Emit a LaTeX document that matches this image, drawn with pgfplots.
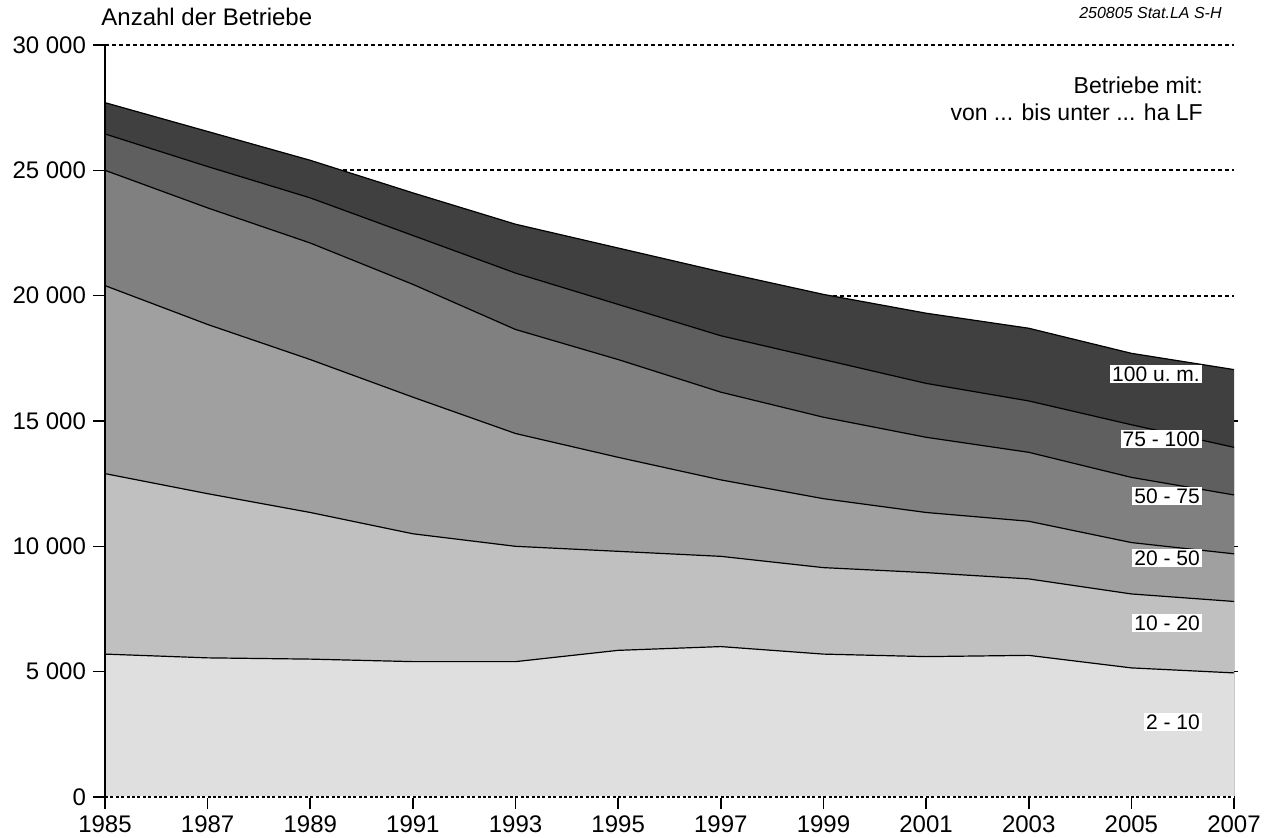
\documentclass[border=0pt]{standalone}
\usepackage{fontspec}
\setmainfont{Liberation Sans}
\usepackage{pgfplots}
\usepackage{pgfplotstable}
\pgfplotsset{compat=1.18}

\definecolor{cA}{HTML}{DFDFDF}
\definecolor{cB}{HTML}{C0C0C0}
\definecolor{cC}{HTML}{A0A0A0}
\definecolor{cD}{HTML}{808080}
\definecolor{cE}{HTML}{5F5F5F}
\definecolor{cF}{HTML}{404040}

% a: 2-10, b: 10-20, c: 20-50, d: 50-75, e: 75-100, f: 100 u. m.
\pgfplotstableread{
year a    b    c    d    e    f
1985 5700 7200 7500 4600 1450 1250
1987 5550 6550 6750 4650 1650 1400
1989 5500 5850 6100 4650 1800 1500
1991 5400 5100 5450 4500 1950 1700
1993 5400 4600 4500 4150 2250 1950
1995 5850 3950 3750 3900 2200 2250
1997 6000 3600 3050 3500 2250 2550
1999 5700 3450 2750 3250 2300 2600
2001 5600 3350 2400 3000 2150 2800
2003 5650 3050 2300 2750 2050 2900
2005 5150 2950 2050 2600 2100 2850
2007 4950 2850 1900 2350 1900 3100
}\data
\pgfplotstablecreatecol[expr={\thisrow{a}+\thisrow{b}}]{s2}{\data}
\pgfplotstablecreatecol[expr={\thisrow{s2}+\thisrow{c}}]{s3}{\data}
\pgfplotstablecreatecol[expr={\thisrow{s3}+\thisrow{d}}]{s4}{\data}
\pgfplotstablecreatecol[expr={\thisrow{s4}+\thisrow{e}}]{s5}{\data}
\pgfplotstablecreatecol[expr={\thisrow{s5}+\thisrow{f}}]{s6}{\data}

\begin{document}
\begin{tikzpicture}
\begin{axis}[
  scale only axis, width=564.5pt, height=376pt,
  xmin=1985, xmax=2007, ymin=0, ymax=30000,
  axis lines*=left,
  xtick={1985,1987,...,2007},
  ytick={0,5000,...,30000},
  scaled y ticks=false,
  tick align=outside, major tick length=6pt,
  tick style={black, line width=0.8pt},
  xticklabel style={/pgf/number format/1000 sep={}},
  yticklabel style={/pgf/number format/1000 sep={\ }},
  /pgf/number format/assume math mode=true,
  ticklabel style={font=\fontsize{12}{14}\selectfont},
  ymajorgrids,
  grid style={black, line width=0.85pt, dash pattern=on 2pt off 1.5pt},
  axis line style={line width=0.8pt},
  clip=false,
]
\addplot[fill=cF, draw=none] table[x=year, y=s6]{\data} \closedcycle;
\addplot[fill=cE, draw=none] table[x=year, y=s5]{\data} \closedcycle;
\addplot[fill=cD, draw=none] table[x=year, y=s4]{\data} \closedcycle;
\addplot[fill=cC, draw=none] table[x=year, y=s3]{\data} \closedcycle;
\addplot[fill=cB, draw=none] table[x=year, y=s2]{\data} \closedcycle;
\addplot[fill=cA, draw=none] table[x=year, y=a]{\data} \closedcycle;

\addplot[black, line width=0.6pt] table[x=year, y=a]{\data};
\addplot[black, line width=0.6pt] table[x=year, y=s2]{\data};
\addplot[black, line width=0.6pt] table[x=year, y=s3]{\data};
\addplot[black, line width=0.6pt] table[x=year, y=s4]{\data};
\addplot[black, line width=0.6pt] table[x=year, y=s5]{\data};
\addplot[black, line width=0.6pt] table[x=year, y=s6]{\data};

\draw[line width=0.8pt] (rel axis cs:0,0) -- (rel axis cs:0,1);
\draw[line width=0.9pt, white] (rel axis cs:0,0) -- (rel axis cs:1,0);
\draw[line width=0.9pt, dash pattern=on 1.5pt off 1.2pt] (rel axis cs:0,0) -- (rel axis cs:1,0);

\draw[line width=0.8pt] (axis cs:2007,5000) -- ([xshift=2pt]axis cs:2007,5000);
\draw[line width=0.8pt] (axis cs:2007,10000) -- ([xshift=2pt]axis cs:2007,10000);
\draw[line width=0.8pt] (axis cs:2007,15000) -- ([xshift=2pt]axis cs:2007,15000);

\begin{scope}[every node/.style={fill=white, inner sep=1pt, anchor=east, font=\fontsize{10.5}{12}\selectfont}]
\node at (axis cs:2006.38,16873) {100 u.\ m.};
\node at (axis cs:2006.38,14280) {75 - 100};
\node at (axis cs:2006.38,12006) {50 - 75};
\node at (axis cs:2006.38,9533) {20 - 50};
\node at (axis cs:2006.38,6941) {10 - 20};
\node at (axis cs:2006.38,2992) {2 - 10};
\end{scope}

\node[anchor=base west, inner sep=0pt, font=\fontsize{12}{14}\selectfont]
  at ([xshift=-2pt, yshift=9.5pt]rel axis cs:0,1) {Anzahl der Betriebe};
\node[anchor=base east, inner sep=0pt, font=\fontsize{8}{9}\selectfont\itshape]
  at ([xshift=-6pt, yshift=13pt]rel axis cs:1,1) {250805 Stat.LA S-H};
\node[anchor=north east, align=right, inner sep=0pt, font=\fontsize{11.5}{13.5}\selectfont]
  at (axis cs:2006.4,28750) {Betriebe mit:\\von ... bis unter ... ha LF};

\coordinate (BL) at (rel axis cs:0,0);
\coordinate (TR) at (rel axis cs:1,1);
\end{axis}
\pgfresetboundingbox
\path[use as bounding box] ([shift={(-52.5pt,-20.5pt)}]BL) rectangle ([shift={(18pt,22.5pt)}]TR);
\end{tikzpicture}
\end{document}
